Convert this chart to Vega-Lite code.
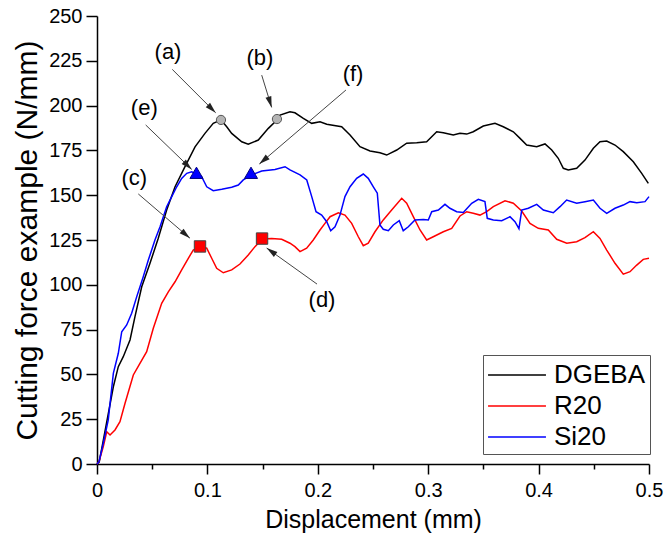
{
  "$schema": "https://vega.github.io/schema/vega-lite/v6.json",
  "width": 552,
  "height": 448,
  "autosize": {"type": "none"},
  "padding": {"left": 97, "top": 16, "right": 16, "bottom": 76},
  "background": "white",
  "config": {
    "view": {"stroke": null},
    "font": "Liberation Sans",
    "axis": {"grid": false, "domainColor": "black", "domainWidth": 1.5, "tickColor": "black", "tickWidth": 1.5, "labelColor": "black", "titleColor": "black", "labelFont": "Liberation Sans", "titleFont": "Liberation Sans", "labelFontSize": 20, "titleFontWeight": "normal", "labelOverlap": false, "labelFlush": false}
  },
  "datasets": {
    "curves": [
      {"s":"DGEBA","x":0,"y":0},{"s":"DGEBA","x":0.002,"y":1.1},{"s":"DGEBA","x":0.0148,"y":43.1},{"s":"DGEBA","x":0.0193,"y":54.3},{"s":"DGEBA","x":0.0238,"y":59.9},{"s":"DGEBA","x":0.0299,"y":69.2},{"s":"DGEBA","x":0.0344,"y":82.2},{"s":"DGEBA","x":0.0405,"y":98.9},{"s":"DGEBA","x":0.048,"y":112},{"s":"DGEBA","x":0.0555,"y":126},{"s":"DGEBA","x":0.0631,"y":141.7},{"s":"DGEBA","x":0.0707,"y":154.7},{"s":"DGEBA","x":0.0797,"y":165.9},{"s":"DGEBA","x":0.0888,"y":177},{"s":"DGEBA","x":0.0978,"y":184.5},{"s":"DGEBA","x":0.1053,"y":190.1},{"s":"DGEBA","x":0.1123,"y":192},{"s":"DGEBA","x":0.1175,"y":188.2},{"s":"DGEBA","x":0.122,"y":184.5},{"s":"DGEBA","x":0.1311,"y":179.8},{"s":"DGEBA","x":0.137,"y":178.4},{"s":"DGEBA","x":0.1461,"y":180.8},{"s":"DGEBA","x":0.1552,"y":187.3},{"s":"DGEBA","x":0.163,"y":192},{"s":"DGEBA","x":0.1658,"y":194.7},{"s":"DGEBA","x":0.1748,"y":196.6},{"s":"DGEBA","x":0.1793,"y":196},{"s":"DGEBA","x":0.1869,"y":192.9},{"s":"DGEBA","x":0.1945,"y":190.1},{"s":"DGEBA","x":0.202,"y":191},{"s":"DGEBA","x":0.2081,"y":189.6},{"s":"DGEBA","x":0.2216,"y":188.2},{"s":"DGEBA","x":0.2292,"y":183.6},{"s":"DGEBA","x":0.2382,"y":177.1},{"s":"DGEBA","x":0.2473,"y":174.7},{"s":"DGEBA","x":0.2563,"y":173.7},{"s":"DGEBA","x":0.2624,"y":172.4},{"s":"DGEBA","x":0.2715,"y":175.2},{"s":"DGEBA","x":0.2805,"y":179},{"s":"DGEBA","x":0.2896,"y":179.3},{"s":"DGEBA","x":0.2986,"y":179.8},{"s":"DGEBA","x":0.3077,"y":185.4},{"s":"DGEBA","x":0.3137,"y":184.9},{"s":"DGEBA","x":0.3227,"y":183.6},{"s":"DGEBA","x":0.3288,"y":184.5},{"s":"DGEBA","x":0.3349,"y":184.1},{"s":"DGEBA","x":0.3408,"y":185.4},{"s":"DGEBA","x":0.3499,"y":188.6},{"s":"DGEBA","x":0.3605,"y":190.1},{"s":"DGEBA","x":0.368,"y":188.2},{"s":"DGEBA","x":0.3771,"y":185.4},{"s":"DGEBA","x":0.3832,"y":181.7},{"s":"DGEBA","x":0.3892,"y":178},{"s":"DGEBA","x":0.3983,"y":177.1},{"s":"DGEBA","x":0.4058,"y":178.6},{"s":"DGEBA","x":0.4119,"y":175.2},{"s":"DGEBA","x":0.4178,"y":170.6},{"s":"DGEBA","x":0.4224,"y":165},{"s":"DGEBA","x":0.4269,"y":164.1},{"s":"DGEBA","x":0.4345,"y":165},{"s":"DGEBA","x":0.442,"y":169.6},{"s":"DGEBA","x":0.4496,"y":176.2},{"s":"DGEBA","x":0.4556,"y":179.8},{"s":"DGEBA","x":0.4617,"y":180.2},{"s":"DGEBA","x":0.4692,"y":178},{"s":"DGEBA","x":0.4767,"y":174.3},{"s":"DGEBA","x":0.4858,"y":168.7},{"s":"DGEBA","x":0.4934,"y":162.2},{"s":"DGEBA","x":0.4994,"y":156.6},
      {"s":"R20","x":0,"y":0},{"s":"R20","x":0.0018,"y":1.3},{"s":"R20","x":0.0057,"y":9.7},{"s":"R20","x":0.0088,"y":18},{"s":"R20","x":0.0118,"y":16.2},{"s":"R20","x":0.0163,"y":19},{"s":"R20","x":0.0208,"y":23.6},{"s":"R20","x":0.0254,"y":33.9},{"s":"R20","x":0.0329,"y":49.7},{"s":"R20","x":0.0389,"y":56.2},{"s":"R20","x":0.045,"y":62.7},{"s":"R20","x":0.051,"y":75.7},{"s":"R20","x":0.0586,"y":89.7},{"s":"R20","x":0.0646,"y":96.1},{"s":"R20","x":0.0707,"y":101.7},{"s":"R20","x":0.0767,"y":108.3},{"s":"R20","x":0.0827,"y":114.8},{"s":"R20","x":0.0872,"y":119.4},{"s":"R20","x":0.0933,"y":121.3},{"s":"R20","x":0.0994,"y":120.4},{"s":"R20","x":0.1039,"y":114.8},{"s":"R20","x":0.1084,"y":109.2},{"s":"R20","x":0.1144,"y":106.7},{"s":"R20","x":0.122,"y":108.3},{"s":"R20","x":0.1295,"y":111.6},{"s":"R20","x":0.137,"y":116.6},{"s":"R20","x":0.1431,"y":121.3},{"s":"R20","x":0.1497,"y":125.6},{"s":"R20","x":0.1582,"y":125.9},{"s":"R20","x":0.1673,"y":125.4},{"s":"R20","x":0.1748,"y":123.2},{"s":"R20","x":0.1793,"y":121.3},{"s":"R20","x":0.1839,"y":118.5},{"s":"R20","x":0.1899,"y":120.4},{"s":"R20","x":0.1959,"y":125},{"s":"R20","x":0.202,"y":130.6},{"s":"R20","x":0.2065,"y":134.3},{"s":"R20","x":0.2111,"y":138},{"s":"R20","x":0.2186,"y":140.2},{"s":"R20","x":0.2246,"y":138.9},{"s":"R20","x":0.2307,"y":134.3},{"s":"R20","x":0.2367,"y":126.8},{"s":"R20","x":0.2412,"y":121.8},{"s":"R20","x":0.2457,"y":123.2},{"s":"R20","x":0.2518,"y":129.6},{"s":"R20","x":0.2593,"y":136.2},{"s":"R20","x":0.2669,"y":141.7},{"s":"R20","x":0.276,"y":148.3},{"s":"R20","x":0.2805,"y":145.5},{"s":"R20","x":0.2865,"y":138},{"s":"R20","x":0.2926,"y":130.6},{"s":"R20","x":0.2986,"y":125},{"s":"R20","x":0.3046,"y":126.8},{"s":"R20","x":0.3137,"y":129.6},{"s":"R20","x":0.3213,"y":131.5},{"s":"R20","x":0.3288,"y":138.4},{"s":"R20","x":0.3349,"y":140.8},{"s":"R20","x":0.3408,"y":139.9},{"s":"R20","x":0.3469,"y":138.9},{"s":"R20","x":0.353,"y":140.8},{"s":"R20","x":0.359,"y":143.6},{"s":"R20","x":0.3696,"y":146.9},{"s":"R20","x":0.3771,"y":145.5},{"s":"R20","x":0.3847,"y":141.2},{"s":"R20","x":0.3922,"y":134.3},{"s":"R20","x":0.3997,"y":131.5},{"s":"R20","x":0.4088,"y":130.6},{"s":"R20","x":0.4164,"y":125.4},{"s":"R20","x":0.4255,"y":123.2},{"s":"R20","x":0.4345,"y":124},{"s":"R20","x":0.442,"y":126.3},{"s":"R20","x":0.4496,"y":129.6},{"s":"R20","x":0.4556,"y":125.9},{"s":"R20","x":0.4617,"y":119.4},{"s":"R20","x":0.4692,"y":112},{"s":"R20","x":0.4767,"y":105.9},{"s":"R20","x":0.4828,"y":107.3},{"s":"R20","x":0.4889,"y":111},{"s":"R20","x":0.4948,"y":114.2},{"s":"R20","x":0.5,"y":114.8},
      {"s":"Si20","x":0,"y":0},{"s":"Si20","x":0.0018,"y":1.3},{"s":"Si20","x":0.0057,"y":11.6},{"s":"Si20","x":0.0102,"y":24.6},{"s":"Si20","x":0.0148,"y":50.6},{"s":"Si20","x":0.0193,"y":61.8},{"s":"Si20","x":0.0224,"y":73.8},{"s":"Si20","x":0.0269,"y":77.6},{"s":"Si20","x":0.0314,"y":84.1},{"s":"Si20","x":0.036,"y":93.4},{"s":"Si20","x":0.0419,"y":104.5},{"s":"Si20","x":0.0465,"y":113.8},{"s":"Si20","x":0.0525,"y":125},{"s":"Si20","x":0.0571,"y":132.4},{"s":"Si20","x":0.0631,"y":143.6},{"s":"Si20","x":0.0677,"y":149.2},{"s":"Si20","x":0.0722,"y":154.7},{"s":"Si20","x":0.0767,"y":159.4},{"s":"Si20","x":0.0813,"y":162.2},{"s":"Si20","x":0.0858,"y":163.1},{"s":"Si20","x":0.0903,"y":161.7},{"s":"Si20","x":0.0948,"y":160.3},{"s":"Si20","x":0.0994,"y":154.7},{"s":"Si20","x":0.1053,"y":152.5},{"s":"Si20","x":0.113,"y":153.3},{"s":"Si20","x":0.122,"y":154.4},{"s":"Si20","x":0.128,"y":155.7},{"s":"Si20","x":0.1325,"y":158.5},{"s":"Si20","x":0.1401,"y":161.3},{"s":"Si20","x":0.1492,"y":163.5},{"s":"Si20","x":0.1612,"y":164.4},{"s":"Si20","x":0.1703,"y":165.9},{"s":"Si20","x":0.1748,"y":164.1},{"s":"Si20","x":0.1839,"y":161.3},{"s":"Si20","x":0.19,"y":158.5},{"s":"Si20","x":0.1945,"y":149.2},{"s":"Si20","x":0.1984,"y":140.8},{"s":"Si20","x":0.2035,"y":138.9},{"s":"Si20","x":0.2081,"y":135.2},{"s":"Si20","x":0.2117,"y":130.2},{"s":"Si20","x":0.2156,"y":132.4},{"s":"Si20","x":0.2201,"y":138.9},{"s":"Si20","x":0.2246,"y":149.2},{"s":"Si20","x":0.2292,"y":154.7},{"s":"Si20","x":0.2352,"y":159.4},{"s":"Si20","x":0.2412,"y":161.8},{"s":"Si20","x":0.2457,"y":159.4},{"s":"Si20","x":0.2503,"y":154.7},{"s":"Si20","x":0.2539,"y":151.1},{"s":"Si20","x":0.2563,"y":133.4},{"s":"Si20","x":0.2593,"y":131},{"s":"Si20","x":0.2639,"y":130.2},{"s":"Si20","x":0.2684,"y":133.4},{"s":"Si20","x":0.2738,"y":135.8},{"s":"Si20","x":0.2774,"y":130.2},{"s":"Si20","x":0.282,"y":132.4},{"s":"Si20","x":0.288,"y":136.2},{"s":"Si20","x":0.2956,"y":136.5},{"s":"Si20","x":0.3001,"y":136.2},{"s":"Si20","x":0.3032,"y":140.8},{"s":"Si20","x":0.3092,"y":141.7},{"s":"Si20","x":0.3152,"y":144.9},{"s":"Si20","x":0.3197,"y":142.7},{"s":"Si20","x":0.3258,"y":140.8},{"s":"Si20","x":0.3318,"y":140.4},{"s":"Si20","x":0.3394,"y":145.5},{"s":"Si20","x":0.3454,"y":147.7},{"s":"Si20","x":0.3514,"y":146.4},{"s":"Si20","x":0.3535,"y":137.1},{"s":"Si20","x":0.359,"y":136.2},{"s":"Si20","x":0.3666,"y":135.8},{"s":"Si20","x":0.3741,"y":138},{"s":"Si20","x":0.3786,"y":135.2},{"s":"Si20","x":0.3822,"y":131.3},{"s":"Si20","x":0.3847,"y":141.7},{"s":"Si20","x":0.3907,"y":142.7},{"s":"Si20","x":0.3983,"y":144.9},{"s":"Si20","x":0.4043,"y":141.7},{"s":"Si20","x":0.4133,"y":140.2},{"s":"Si20","x":0.4194,"y":143.6},{"s":"Si20","x":0.4254,"y":147.3},{"s":"Si20","x":0.4345,"y":145.5},{"s":"Si20","x":0.442,"y":146.4},{"s":"Si20","x":0.4496,"y":147.3},{"s":"Si20","x":0.4556,"y":142.7},{"s":"Si20","x":0.4617,"y":139.9},{"s":"Si20","x":0.4692,"y":142.7},{"s":"Si20","x":0.4767,"y":144.5},{"s":"Si20","x":0.4828,"y":146.4},{"s":"Si20","x":0.4889,"y":145.8},{"s":"Si20","x":0.4964,"y":146.4},{"s":"Si20","x":0.5,"y":149.2}
    ],
    "markers": [
      {"id":"(a)","kind":"circle","x":0.1123,"y":192},
      {"id":"(b)","kind":"circle","x":0.163,"y":192.5},
      {"id":"(c)","kind":"square","x":0.0933,"y":121.4},
      {"id":"(d)","kind":"square","x":0.1495,"y":125.8},
      {"id":"(e)","kind":"triangle","x":0.0901,"y":162.5},
      {"id":"(f)","kind":"triangle","x":0.1395,"y":162.5}
    ],
    "notes": [
      {"id":"(a)","lx":0.0643,"ly":230,"sx":0.0682,"sy":220.2,"tx":0.1075,"ty":196},
      {"id":"(b)","lx":0.1476,"ly":226.4,"sx":0.1492,"sy":217,"tx":0.1582,"ty":199},
      {"id":"(e)","lx":0.0428,"ly":198.5,"sx":0.0441,"sy":189.2,"tx":0.0858,"ty":164.4},
      {"id":"(c)","lx":0.0338,"ly":159.4,"sx":0.0374,"sy":150.7,"tx":0.0842,"ty":126},
      {"id":"(d)","lx":0.2038,"ly":91.5,"sx":0.1993,"sy":100.4,"tx":0.1537,"ty":120.5},
      {"id":"(f)","lx":0.2319,"ly":217.6,"sx":0.2255,"sy":208.7,"tx":0.147,"ty":167.4}
    ]
  },
  "layer": [
    {
      "data": {"name": "curves"},
      "mark": {"type": "line", "strokeWidth": 1.5, "interpolate": "linear"},
      "encoding": {
        "x": {"field": "x", "type": "quantitative", "title": "Displacement (mm)",
          "scale": {"domain": [0, 0.5], "nice": false, "zero": false},
          "axis": {"values": [0,0.05,0.1,0.15,0.2,0.25,0.3,0.35,0.4,0.45,0.5],
            "labelExpr": "abs(datum.value*10 - round(datum.value*10)) < 0.001 ? format(datum.value, '.1~f') : ''",
            "tickSize": {"condition": {"test": "abs(datum.value*10 - round(datum.value*10)) < 0.001", "value": 10}, "value": 5},
            "labelPadding": 6, "titleFontSize": 25, "titlePadding": 7}},
        "y": {"field": "y", "type": "quantitative", "title": "Cutting force example (N/mm)",
          "scale": {"domain": [0, 250], "nice": false},
          "axis": {"values": [0,12.5,25,37.5,50,62.5,75,87.5,100,112.5,125,137.5,150,162.5,175,187.5,200,212.5,225,237.5,250],
            "labelExpr": "datum.value % 25 == 0 ? datum.label : ''",
            "tickSize": {"condition": {"test": "datum.value % 25 == 0", "value": 11}, "value": 6},
            "labelPadding": 4, "titleFontSize": 30, "titlePadding": 6}},
        "color": {"field": "s", "type": "nominal", "title": null,
          "scale": {"domain": ["DGEBA", "R20", "Si20"], "range": ["#000000", "#ff0000", "#0000ff"]},
          "legend": {"orient": "none", "legendX": 386, "legendY": 339, "symbolType": "M-1.93,0H1.93", "symbolSize": 900, "symbolStrokeWidth": 1.5, "symbolOffset": 14,
            "labelFontSize": 26, "labelFont": "Liberation Sans", "labelColor": "black", "labelOffset": 21,
            "strokeColor": "#555555", "padding": 4, "rowPadding": 2, "fillColor": "white"}}
      }
    },
    {
      "data": {"name": "notes"},
      "mark": {"type": "rule", "color": "#444444", "strokeWidth": 1},
      "encoding": {
        "x": {"field": "sx", "type": "quantitative", "title": "Displacement (mm)"},
        "y": {"field": "sy", "type": "quantitative", "title": "Cutting force example (N/mm)"},
        "x2": {"field": "tx"},
        "y2": {"field": "ty"}
      }
    },
    {
      "data": {"name": "notes"},
      "transform": [{"calculate": "atan2((datum.tx - datum.sx) * 1104, (datum.ty - datum.sy) * 1.792) * 180 / PI", "as": "ang"}],
      "mark": {"type": "point", "shape": "M0,0L0.55,2L-0.55,2Z", "filled": true, "color": "#222222", "size": 121, "opacity": 1},
      "encoding": {
        "x": {"field": "tx", "type": "quantitative", "title": "Displacement (mm)"},
        "y": {"field": "ty", "type": "quantitative", "title": "Cutting force example (N/mm)"},
        "angle": {"field": "ang", "type": "quantitative", "scale": null}
      }
    },
    {
      "data": {"name": "notes"},
      "mark": {"type": "text", "fontSize": 22, "font": "Liberation Sans", "color": "black", "align": "center", "baseline": "middle"},
      "encoding": {
        "x": {"field": "lx", "type": "quantitative", "title": "Displacement (mm)"},
        "y": {"field": "ly", "type": "quantitative", "title": "Cutting force example (N/mm)"},
        "text": {"field": "id"}
      }
    },
    {
      "data": {"name": "markers"},
      "transform": [{"filter": "datum.kind == 'circle'"}],
      "mark": {"type": "point", "shape": "circle", "filled": true, "fill": "#b4b4b4", "stroke": "#555555", "strokeWidth": 1, "size": 85, "opacity": 1},
      "encoding": {
        "x": {"field": "x", "type": "quantitative", "title": "Displacement (mm)"},
        "y": {"field": "y", "type": "quantitative", "title": "Cutting force example (N/mm)"}
      }
    },
    {
      "data": {"name": "markers"},
      "transform": [{"filter": "datum.kind == 'square'"}],
      "mark": {"type": "point", "shape": "square", "filled": true, "fill": "#ff0000", "stroke": "#444444", "strokeWidth": 1, "size": 130, "opacity": 1},
      "encoding": {
        "x": {"field": "x", "type": "quantitative", "title": "Displacement (mm)"},
        "y": {"field": "y", "type": "quantitative", "title": "Cutting force example (N/mm)"}
      }
    },
    {
      "data": {"name": "markers"},
      "transform": [{"filter": "datum.kind == 'triangle'"}],
      "mark": {"type": "point", "shape": "triangle-up", "filled": true, "fill": "#0000ff", "stroke": "#000080", "strokeWidth": 1, "size": 170, "opacity": 1},
      "encoding": {
        "x": {"field": "x", "type": "quantitative", "title": "Displacement (mm)"},
        "y": {"field": "y", "type": "quantitative", "title": "Cutting force example (N/mm)"}
      }
    }
  ]
}
